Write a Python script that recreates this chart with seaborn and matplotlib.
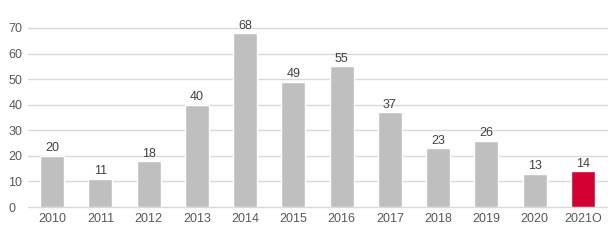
import matplotlib
matplotlib.use("Agg")
import matplotlib.pyplot as plt
import seaborn as sns
import pandas as pd

years = ["2010", "2011", "2012", "2013", "2014", "2015", "2016", "2017", "2018", "2019", "2020", "2021O"]
values = [20, 11, 18, 40, 68, 49, 55, 37, 23, 26, 13, 14]
grey = "#BFBFBF"
red = "#D50032"
colors = [grey] * 11 + [red]

sns.set_theme(style="white")
plt.rcParams['font.family'] = ['Liberation Sans', 'DejaVu Sans']

df = pd.DataFrame({"year": years, "value": values})
fig = plt.figure(figsize=(6.13, 2.48), dpi=100)
ax = fig.add_axes([28/613, 1-207/248, 579/613, 179/248])
sns.barplot(data=df, x="year", y="value", hue="year", palette=colors, legend=False,
            width=0.5, ax=ax, saturation=1)
ax.set_ylim(0, 70)
ax.set_yticks(range(0, 71, 10))
ax.yaxis.grid(True, color="#D9D9D9", linewidth=1)
ax.set_axisbelow(True)
for g in ax.get_ygridlines():
    g.set_clip_on(False)
for s in ax.spines.values():
    s.set_visible(False)
ax.set_xlabel("")
ax.set_ylabel("")
ax.tick_params(axis="both", length=0, labelsize=9, colors="#595959", pad=4)
ax.tick_params(axis="y", pad=14)
for lab in ax.get_yticklabels():
    lab.set_horizontalalignment("left")
for i, v in enumerate(values):
    ax.annotate(str(v), (i, v), xytext=(0, 1), textcoords="offset points",
                ha="center", va="bottom", fontsize=9, color="#404040", annotation_clip=False)
fig.savefig("out.png", dpi=100)
